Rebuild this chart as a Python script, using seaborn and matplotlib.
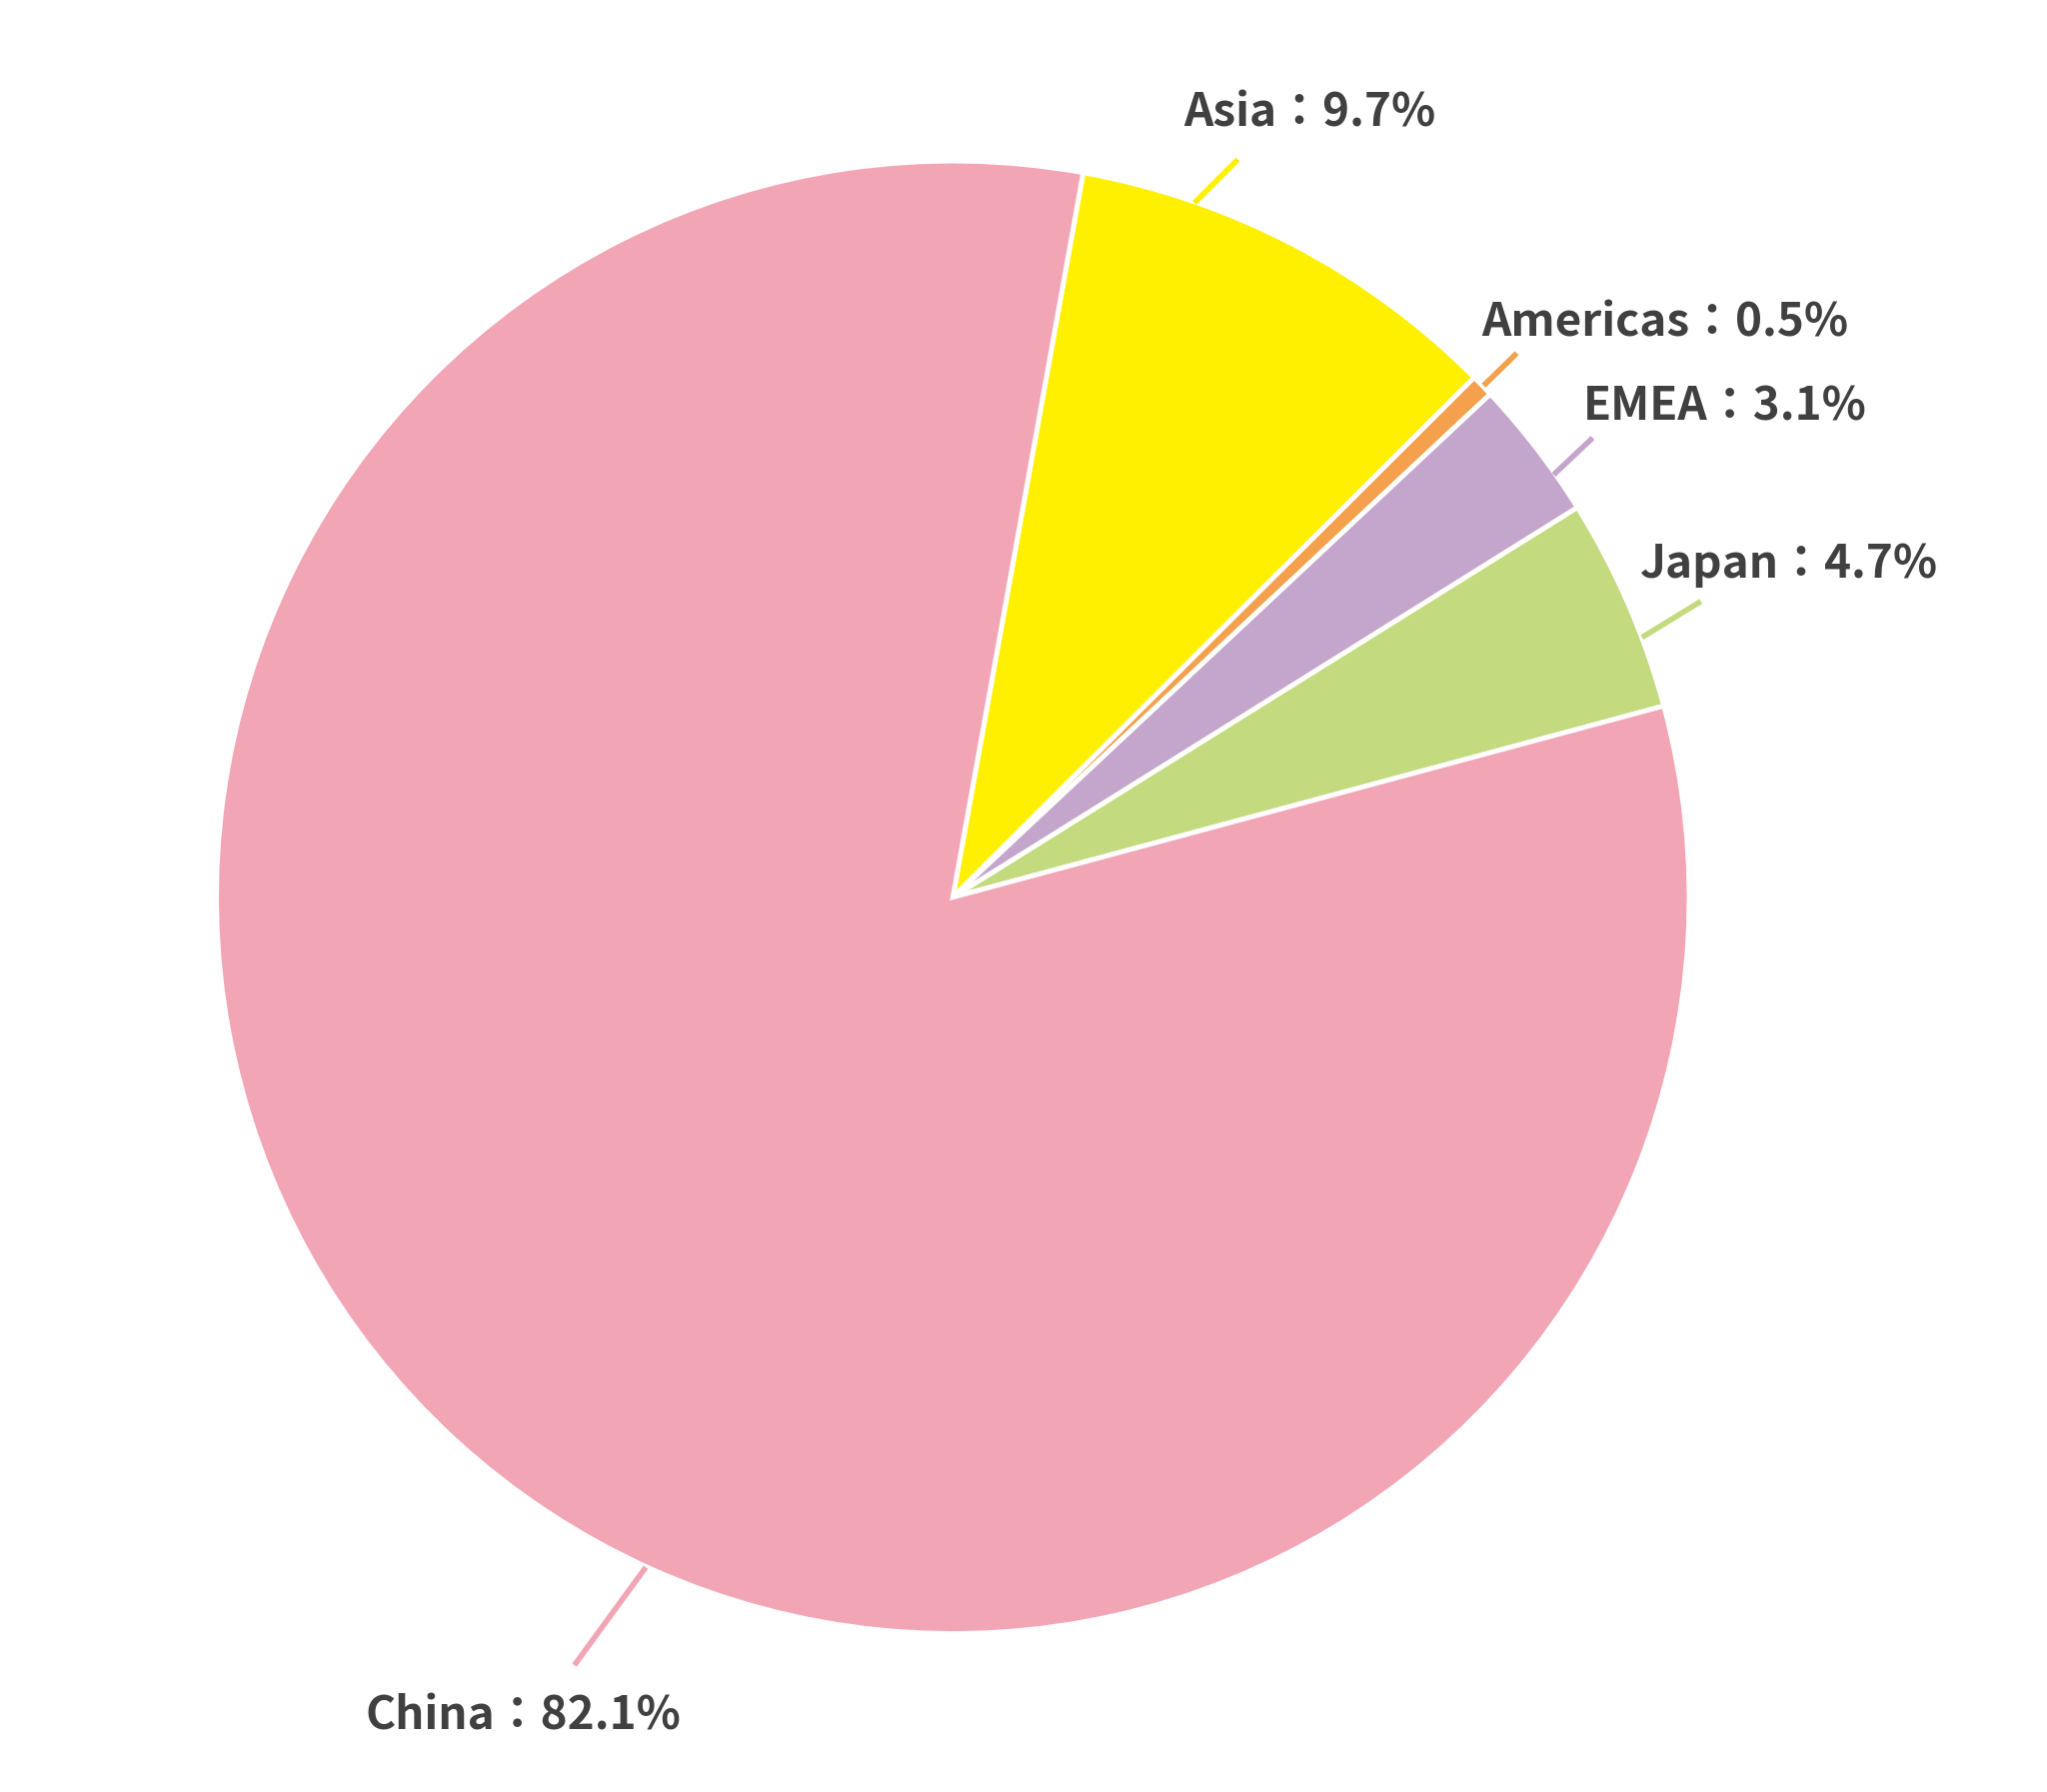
import matplotlib
matplotlib.use("Agg")
import matplotlib.pyplot as plt
import seaborn as sns

regions = ["Asia", "Americas", "EMEA", "Japan", "China"]
shares = [9.7, 0.5, 3.1, 4.7, 82.1]
colors = ["#FFF000", "#F4A04C", "#C4A6CC", "#C3DA7E", "#F2A5B5"]

sns.set_style("white")
plt.rcParams['font.family'] = ['Noto Sans CJK JP', 'DejaVu Sans']

fig = plt.figure(figsize=(20.48, 17.93), dpi=100)
ax = fig.add_axes([0, 0, 1, 1])
ax.pie(shares, colors=colors, startangle=79.8, counterclock=False,
       wedgeprops=dict(edgecolor="white", linewidth=3.5))
ax.set_xlim(-1.294, 1.486)
ax.set_ylim(-1.2145, 1.218)
ax.set_aspect("equal")
ax.axis("off")

# label anchors (text pos, leader start, leader end)
label_pos = {
    "Asia": ((0.314, 1.064), (0.328, 0.943), (0.387, 1.002)),
    "Americas": ((0.718, 0.780), (0.721, 0.695), (0.766, 0.739)),
    "EMEA": ((0.856, 0.665), (0.816, 0.574), (0.869, 0.624)),
    "Japan": ((0.934, 0.452), (0.936, 0.353), (1.016, 0.402)),
    "China": ((-0.798, -1.113), (-0.417, -0.910), (-0.514, -1.043)),
}
for r, s, c in zip(regions, shares, colors):
    (tx, ty), (x0, y0), (x1, y1) = label_pos[r]
    ax.plot([x0, x1], [y0, y1], color=c, lw=4, solid_capstyle="butt")
    ax.text(tx, ty, f"{r}：{s}%", fontsize=33, fontweight="bold",
            color="#404040", ha="left", va="center")

fig.savefig("out.png", dpi=100, facecolor="white")
